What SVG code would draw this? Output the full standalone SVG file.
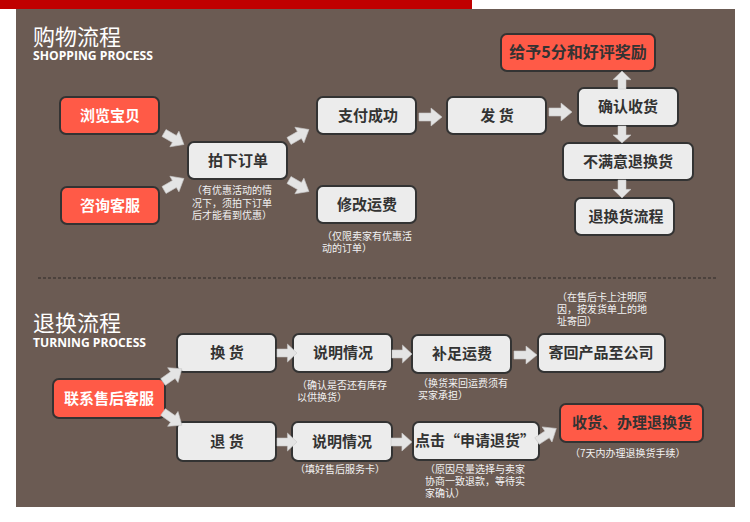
<svg xmlns="http://www.w3.org/2000/svg" xmlns:xlink="http://www.w3.org/1999/xlink" width="750" height="522" viewBox="0 0 750 522">
<style>
.bg{fill:#6b5b53}
.box{fill:#ececec;stroke:#333;stroke-width:2}
.red{fill:#ff5a47;stroke:#333;stroke-width:2}
.lbl{font-family:"Noto Sans CJK SC","Noto Sans",sans-serif;font-size:15px;font-weight:bold;fill:#333;text-anchor:middle}
.wl{fill:#fff}
.note{font-family:"Noto Sans CJK SC","Noto Sans",sans-serif;font-size:10px;fill:#f2f2f2}
.title{font-family:"Noto Sans CJK SC",sans-serif;font-size:22px;fill:#fff}
.sub{font-family:"Open Sans","Liberation Sans",sans-serif;font-size:12px;font-weight:bold;fill:#fff}
.arr{fill:#e4e4e4;stroke:#c8c8c8;stroke-width:0.6}
</style>
<defs>
<path id="arrow" d="M0,-4 H12 V-9 L23,0 L12,9 V4 H0 Z"/>
</defs>
<rect x="0" y="0" width="750" height="522" fill="#fff"/>
<rect x="0" y="0" width="472" height="9" fill="#c00000"/>
<rect class="bg" x="16" y="9" width="719" height="498"/>
<line x1="38" y1="278" x2="716" y2="278" stroke="#2e2a28" stroke-width="1" stroke-dasharray="3,2"/>

<g id="titles">
<text class="title" x="33" y="45">购物流程</text>
<text class="sub" x="33" y="60" textLength="120" lengthAdjust="spacingAndGlyphs">SHOPPING PROCESS</text>
<text class="title" x="33" y="331">退换流程</text>
<text class="sub" x="33" y="347" textLength="113" lengthAdjust="spacingAndGlyphs">TURNING PROCESS</text>
</g>

<g id="n-browse"><rect class="red" x="60" y="97" width="99" height="37" rx="6"/><text class="lbl wl" x="110" y="121">浏览宝贝</text></g>
<g id="n-consult"><rect class="red" x="61" y="187" width="98" height="37" rx="6"/><text class="lbl wl" x="110" y="211">咨询客服</text></g>
<g id="n-order"><rect class="box" x="188" y="142" width="99" height="37" rx="6"/><text class="lbl" x="238" y="166">拍下订单</text>
<text class="note" x="192" y="194">（有优惠活动的情</text><text class="note" x="192" y="207">况下，须拍下订单</text><text class="note" x="192" y="219">后才能看到优惠）</text></g>
<g id="n-pay"><rect class="box" x="317" y="97" width="99" height="37" rx="6"/><text class="lbl" x="368" y="121">支付成功</text></g>
<g id="n-ship"><rect class="box" x="447" y="97" width="99" height="37" rx="6"/><text class="lbl" x="497" y="121">发 货</text></g>
<g id="n-confirm"><rect class="box" x="578" y="88" width="100" height="38" rx="6"/><text class="lbl" x="628" y="112">确认收货</text></g>
<g id="n-unhappy"><rect class="box" x="563" y="143" width="130" height="37" rx="6"/><text class="lbl" x="628" y="167">不满意退换货</text></g>
<g id="n-returnflow"><rect class="box" x="575" y="198" width="99" height="37" rx="6"/><text class="lbl" x="626" y="222">退换货流程</text></g>
<g id="n-fee"><rect class="box" x="317" y="186" width="99" height="37" rx="6"/><text class="lbl" x="367" y="210">修改运费</text>
<text class="note" x="322" y="240">（仅限卖家有优惠活</text><text class="note" x="322" y="252">动的订单）</text></g>
<g id="n-rate"><rect class="red" x="501" y="34" width="154" height="37" rx="6"/><text class="lbl" x="578" y="58" style="font-size:16px">给予5分和好评奖励</text></g>

<g id="n-exchange"><rect class="box" x="177" y="334" width="99" height="38" rx="6"/><text class="lbl" x="227" y="358">换 货</text></g>
<g id="n-explain1"><rect class="box" x="293" y="334" width="99" height="38" rx="6"/><text class="lbl" x="343" y="358">说明情况</text>
<text class="note" x="297" y="389">（确认是否还有库存</text><text class="note" x="297" y="401">以供换货）</text></g>
<g id="n-topup"><rect class="box" x="412" y="335" width="99" height="38" rx="6"/><text class="lbl" x="462" y="359">补足运费</text>
<text class="note" x="418" y="387">（换货来回运费须有</text><text class="note" x="418" y="399">买家承担）</text></g>
<g id="n-sendback"><rect class="box" x="538" y="334" width="127" height="38" rx="6"/><text class="lbl" x="601" y="358">寄回产品至公司</text>
<text class="note" x="557" y="301">（在售后卡上注明原</text><text class="note" x="557" y="313">因，按发货单上的地</text><text class="note" x="557" y="325">址寄回）</text></g>
<g id="n-service"><rect class="red" x="53" y="379" width="112" height="39" rx="6"/><text class="lbl wl" x="109" y="404">联系售后客服</text></g>
<g id="n-refund"><rect class="box" x="177" y="422" width="99" height="39" rx="6"/><text class="lbl" x="227" y="447">退 货</text></g>
<g id="n-explain2"><rect class="box" x="292" y="422" width="100" height="39" rx="6"/><text class="lbl" x="342" y="447">说明情况</text>
<text class="note" x="295" y="473">（填好售后服务卡）</text></g>
<g id="n-apply"><rect class="box" x="413" y="422" width="126" height="38" rx="6"/><text class="lbl" x="475" y="446">点击“申请退货”</text>
<text class="note" x="425" y="473">（原因尽量选择与卖家</text><text class="note" x="425" y="485">协商一致退款，等待实</text><text class="note" x="425" y="497">家确认）</text></g>
<g id="n-receive"><rect class="red" x="560" y="404" width="143" height="38" rx="6"/><text class="lbl" x="632" y="428">收货、办理退换货</text>
<text class="note" x="570" y="457">（7天内办理退换货手续）</text></g>

<g id="connectors" class="arr">
<use xlink:href="#arrow" transform="translate(164,133) rotate(30)"/>
<use xlink:href="#arrow" transform="translate(164,190) rotate(-30)"/>
<use xlink:href="#arrow" transform="translate(289,141) rotate(-30)"/>
<use xlink:href="#arrow" transform="translate(289,180) rotate(30)"/>
<use xlink:href="#arrow" transform="translate(419,117)"/>
<use xlink:href="#arrow" transform="translate(549,112)"/>
<use xlink:href="#arrow" transform="translate(622,89) rotate(-90) scale(0.78,1)"/>
<use xlink:href="#arrow" transform="translate(622,126) rotate(90) scale(0.74,1)"/>
<use xlink:href="#arrow" transform="translate(622,180) rotate(90) scale(0.78,1)"/>
<use xlink:href="#arrow" transform="translate(163,382) rotate(-35) scale(1,1)"/>
<use xlink:href="#arrow" transform="translate(163,412) rotate(35)"/>
<use xlink:href="#arrow" transform="translate(277,353) scale(0.87,1)"/>
<use xlink:href="#arrow" transform="translate(392,354) scale(0.87,1)"/>
<use xlink:href="#arrow" transform="translate(514,355)"/>
<use xlink:href="#arrow" transform="translate(277,442) scale(0.87,1)"/>
<use xlink:href="#arrow" transform="translate(391,442) scale(0.91,1)"/>
<use xlink:href="#arrow" transform="translate(537,441) rotate(-33)"/>
</g>
</svg>
